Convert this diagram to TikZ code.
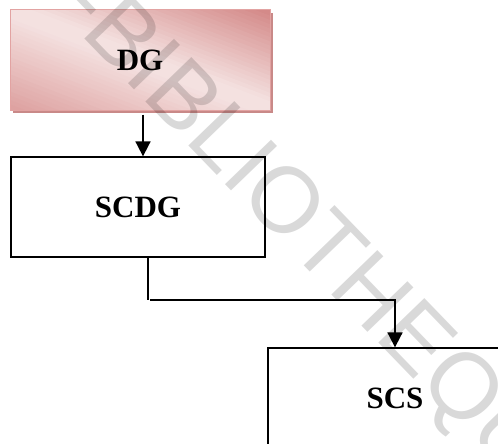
\documentclass[tikz,border=0pt]{standalone}
\usepackage{fontspec}
\setmainfont{Liberation Serif}
\newfontfamily\wmfont{Liberation Sans}
\usetikzlibrary{arrows.meta}

\definecolor{pinkLight}{HTML}{F4E1E0}
\definecolor{pinkMid}{HTML}{DEA2A1}
\definecolor{pinkDark}{HTML}{D48A89}
\definecolor{pinkEdge}{HTML}{E2A3A2}
\definecolor{pinkShade}{HTML}{C98988}

\begin{document}
\begin{tikzpicture}[x=1pt,y=-1pt,
  label font/.style={font=\fontsize{31}{31}\selectfont\bfseries},
  plainbox/.style={draw=black, line width=1.3pt, fill=white,
    minimum width=254pt, minimum height=100pt, inner sep=0pt, label font},
  headbox/.style={draw=pinkEdge, line width=1pt,
    minimum width=260pt, minimum height=100pt, inner sep=0pt, label font},
  wire/.style={line width=1.8pt},
  link/.style={wire, -{Triangle[length=15pt,width=15pt]}},
  watermark/.style={font=\wmfont\fontsize{93}{93}\selectfont,
    text=black, opacity=0.15, inner sep=0pt, anchor=base west, rotate=-46}
]
\useasboundingbox (0,0) rectangle (498,444);
\clip (0,0) rectangle (498,444);

% head box: drop shadow, then a diagonal gradient built from thin strips
\fill[pinkShade] (13,13) rectangle (273,113);
\begin{scope}
  \clip (10,10) rectangle (270,110);
  \begin{scope}[shift={(140,60)}, rotate=-21]
    \foreach \k in {0,...,49} {
      \pgfmathsetmacro{\sa}{-100+4*\k}
      \pgfmathsetmacro{\sb}{\sa+4.8}
      \pgfmathsetmacro{\sc}{\sa+2}
      \pgfmathtruncatemacro{\wdark}{max(0,min(100,(-\sc-6)/84*100))}
      \pgfmathtruncatemacro{\wmid}{max(0,min(100,(\sc-6)/84*100))}
      \ifdim \sc pt < 0pt
        \colorlet{stripcol}{pinkDark!\wdark!pinkLight}
      \else
        \colorlet{stripcol}{pinkMid!\wmid!pinkLight}
      \fi
      \fill[stripcol] (-320,\sa) rectangle (320,\sb);
    }
  \end{scope}
\end{scope}
\node[headbox] (dg) at (140,60) {DG};

% the two plain boxes
\node[plainbox] (scdg) at (138,207) {SCDG};
\node[plainbox] (scs) at (395,398) {SCS};

% connectors
\coordinate (a1) at (143,0);
\draw[link] ([yshift=-4pt]dg.south -| a1) -- (scdg.north -| a1);

\coordinate (e1) at (148,300);
\coordinate (e2) at (150,300);
\draw[wire] (scdg.south -| e1) -- (e1);
\draw[link] (e2) -| (scs.north);

% faint diagonal watermark
\node[watermark] (wm) at (57.5,10.7) {-BIBLIOTHEQUE};
\end{tikzpicture}
\end{document}
